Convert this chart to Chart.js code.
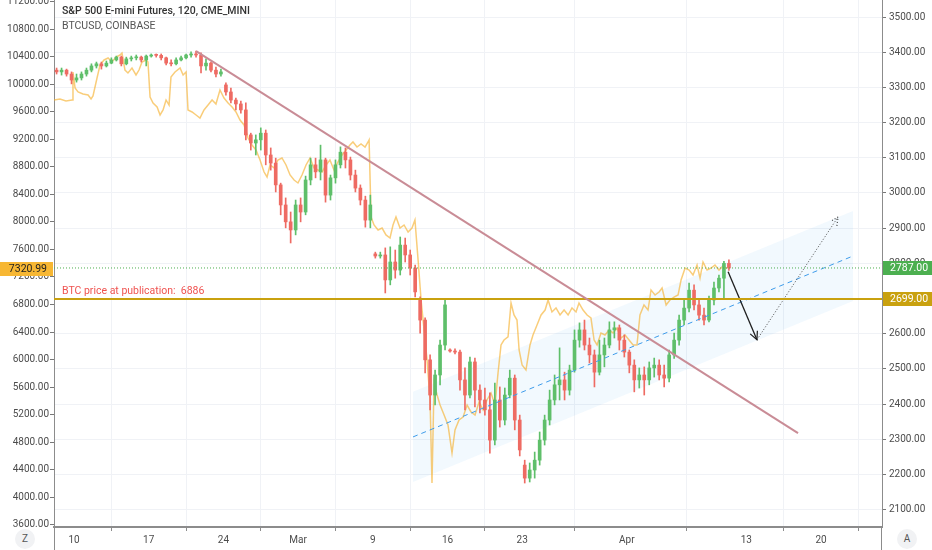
<!DOCTYPE html>
<html>
<head>
<meta charset="utf-8">
<script src="https://cdn.jsdelivr.net/npm/chart.js@4.4.0/dist/chart.umd.min.js"></script>
<style>
html, body { margin: 0; padding: 0; background: #fff; }
#wrap { position: relative; width: 932px; height: 550px; font-family: 'Roboto', sans-serif; }
canvas { display: block; }
.legend { position: absolute; left: 62px; white-space: nowrap; }
#title1 { top: 4px; font-size: 10.5px; font-weight: 500; color: #333; }
#title2 { top: 19px; font-size: 10.5px; color: #555; }
.btn { position: absolute; top: 529px; width: 20px; height: 20px; border-radius: 10px; background: #f1f2f4;
       font-size: 10px; color: #555; text-align: center; line-height: 20px; }
</style>
</head>
<body>
<div id="wrap">
  <canvas id="chart" width="932" height="550"></canvas>
  <div class="legend" id="title1">S&amp;P 500 E-mini Futures, 120, CME_MINI</div>
  <div class="legend" id="title2">BTCUSD, COINBASE</div>
  <div class="btn" style="left:15px">Z</div>
  <div class="btn" style="left:897px">A</div>
</div>
<script>
// S&P 500 e-mini, 120 min candles (3 per trading day, Feb 6 .. Apr 9)
const spOpen = [3349,
  3344, 3349, 3338,  3321, 3327, 3338,  3349, 3361, 3367,  3361, 3369, 3378,  3386, 3367, 3381,
  3384, 3386, 3378,  3389, 3392, 3391,  3384, 3369, 3367,  3378, 3384, 3392,  3395, 3392, 3361,
  3369, 3349, 3338,  3307, 3287, 3264,  3253, 3236, 3165,  3142, 3151, 3170,  3108, 3085, 3023,
  2966, 2918, 2895,  2966, 2946, 3037,  3080, 3060, 3094,  2994, 3043, 3080,  3116, 3094, 3051,
  3014, 2980, 2923,  2827, 2821, 2824,  2753, 2804, 2781,  2852, 2824, 2787,  2696, 2639, 2526,
  2426, 2483, 2568,  2554, 2551, 2548,  2469, 2426, 2520,  2440, 2412, 2384,  2298, 2412, 2355,
  2426, 2474, 2355,  2227, 2190, 2213,  2241, 2298, 2355,  2412, 2455, 2469,  2440, 2497, 2582,
  2611, 2568, 2540,  2491, 2540, 2568,  2611, 2617, 2582,  2548, 2511, 2469,  2483, 2469, 2503,
  2511, 2483, 2474,  2540, 2582, 2639,  2673, 2724, 2682,  2653, 2639, 2696,  2730, 2758, 2800];
const spHigh = [3355,
  3355, 3352, 3344,  3338, 3344, 3355,  3367, 3372, 3372,  3375, 3384, 3389,  3389, 3386, 3389,
  3392, 3389, 3392,  3395, 3395, 3395,  3386, 3378, 3384,  3389, 3395, 3401,  3403, 3398, 3381,
  3372, 3358, 3352,  3313, 3298, 3270,  3261, 3256, 3170,  3165, 3185, 3179,  3128, 3099, 3028,
  2986, 2946, 2980,  2986, 3048, 3099,  3099, 3136, 3099,  3051, 3094, 3131,  3128, 3102, 3065,
  3023, 2991, 2994,  2832, 2832, 2844,  2847, 2838, 2875,  2872, 2838, 2795,  2705, 2645, 2540,
  2497, 2582, 2696,  2557, 2557, 2554,  2503, 2534, 2531,  2455, 2446, 2432,  2460, 2449, 2446,
  2497, 2483, 2369,  2241, 2233, 2264,  2321, 2369, 2440,  2483, 2560, 2491,  2511, 2611, 2631,
  2639, 2588, 2554,  2582, 2588, 2634,  2634, 2625, 2597,  2554, 2526, 2503,  2506, 2520, 2531,
  2526, 2511, 2554,  2602, 2653, 2696,  2744, 2739, 2696,  2673, 2707, 2747,  2767, 2806, 2810];
const spLow = [3338,
  3335, 3332, 3310,  3315, 3321, 3332,  3344, 3355, 3352,  3358, 3367, 3375,  3361, 3364, 3375,
  3378, 3372, 3361,  3386, 3386, 3378,  3364, 3361, 3364,  3375, 3381, 3386,  3386, 3341, 3349,
  3344, 3330, 3332,  3278, 3256, 3236,  3227, 3151, 3122,  3108, 3122, 3080,  3065, 3003, 2938,
  2901, 2858, 2881,  2918, 2938, 3023,  3043, 3037, 2974,  2980, 3028, 3071,  3071, 3037, 3003,
  2966, 2903, 2901,  2815, 2815, 2716,  2739, 2758, 2767,  2804, 2767, 2705,  2602, 2489, 2384,
  2398, 2455, 2554,  2548, 2543, 2440,  2384, 2418, 2392,  2375, 2369, 2261,  2284, 2335, 2341,
  2418, 2327, 2253,  2176, 2179, 2190,  2227, 2284, 2341,  2398, 2412, 2412,  2426, 2491, 2562,
  2554, 2517, 2449,  2483, 2506, 2560,  2588, 2554, 2534,  2489, 2435, 2446,  2426, 2455, 2477,
  2469, 2449, 2463,  2530, 2568, 2625,  2662, 2668, 2639,  2625, 2634, 2682,  2719, 2702, 2780];
const spClose = [3344,
  3349, 3338, 3321,  3327, 3338, 3349,  3361, 3367, 3361,  3369, 3378, 3386,  3367, 3381, 3384,
  3386, 3378, 3389,  3392, 3391, 3384,  3369, 3367, 3378,  3384, 3392, 3395,  3392, 3361, 3369,
  3349, 3338, 3344,  3287, 3264, 3253,  3236, 3165, 3142,  3151, 3170, 3108,  3085, 3023, 2966,
  2918, 2895, 2966,  2946, 3037, 3080,  3060, 3094, 2994,  3043, 3080, 3116,  3094, 3051, 3014,
  2980, 2923, 2966,  2821, 2824, 2753,  2804, 2781, 2852,  2824, 2787, 2719,  2639, 2526, 2426,
  2483, 2568, 2682,  2551, 2548, 2469,  2426, 2520, 2440,  2412, 2384, 2298,  2412, 2355, 2426,
  2474, 2355, 2270,  2190, 2213, 2241,  2298, 2355, 2412,  2455, 2469, 2440,  2497, 2582, 2611,
  2568, 2540, 2491,  2540, 2568, 2611,  2617, 2582, 2548,  2511, 2469, 2483,  2469, 2503, 2511,
  2483, 2474, 2540,  2582, 2639, 2673,  2724, 2682, 2653,  2639, 2696, 2730,  2758, 2800, 2787];

// BTCUSD overlay (x = trading day index, Feb 10 = 0)
const btcTime = [-1.34, -0.94, -0.54, -0.13, -0.07, 0.07, 0.27, 0.60, 0.94, 1.14,
  1.27, 1.54, 1.74, 2.01, 2.28, 2.54, 2.81, 3.08, 3.21, 3.41,
  3.61, 3.88, 4.15, 4.35, 4.55, 4.82, 4.95, 5.09, 5.29, 5.56,
  5.76, 5.96, 6.16, 6.36, 6.49, 6.76, 7.10, 7.30, 7.50, 7.63,
  7.90, 8.17, 8.43, 8.70, 8.97, 9.24, 9.50, 9.77, 10.04, 10.31,
  10.58, 10.84, 11.11, 11.38, 11.65, 11.91, 12.18, 12.45, 12.72, 12.92,
  13.12, 13.39, 13.65, 13.92, 14.19, 14.46, 14.73, 14.99, 15.26, 15.53,
  15.80, 16.06, 16.33, 16.60, 16.87, 17.13, 17.40, 17.67, 17.94, 18.21,
  18.47, 18.67, 18.94, 19.21, 19.48, 19.68, 19.75, 19.88, 20.08, 20.35,
  20.62, 20.88, 21.15, 21.35, 21.55, 21.82, 22.09, 22.36, 22.62, 22.82,
  23.03, 23.23, 23.43, 23.63, 23.83, 23.96, 24.10, 24.30, 24.50, 24.77,
  25.03, 25.30, 25.50, 25.77, 26.04, 26.31, 26.57, 26.84, 27.11, 27.38,
  27.64, 27.91, 28.18, 28.38, 28.58, 28.78, 29.05, 29.25, 29.45, 29.65,
  29.79, 29.99, 30.25, 30.52, 30.72, 30.99, 31.26, 31.53, 31.73, 31.99,
  32.26, 32.53, 32.80, 33.07, 33.33, 33.60, 33.80, 34.07, 34.34, 34.60,
  34.81, 35.01, 35.27, 35.54, 35.81, 36.08, 36.35, 36.61, 36.88, 37.15,
  37.42, 37.68, 37.88, 38.15, 38.42, 38.62, 38.89, 39.16, 39.36, 39.63,
  39.89, 40.16, 40.43, 40.63, 40.90, 41.17, 41.43, 41.70, 41.90, 42.10,
  42.37, 42.64, 42.90, 43.17, 43.44, 43.71];
const btcPrice = [9770, 9784, 9755, 9770, 10176, 9944, 9886, 9857, 9843, 9784,
  9828, 10089, 10278, 10351, 10380, 10322, 10394, 10423, 10452, 10205,
  10162, 10234, 10133, 10205, 10322, 10351, 10322, 9813, 9726, 9668,
  9552, 9625, 9770, 9697, 10104, 10176, 10234, 10133, 10176, 9625,
  9596, 9552, 9508, 9625, 9697, 9770, 9712, 9915, 9799, 9726,
  9668, 9596, 9479, 9407, 9218, 9116, 9044, 8899, 8724, 8652,
  8826, 8783, 8899, 8928, 8826, 8681, 8608, 8565, 8681, 8826,
  8928, 8783, 8753, 8724, 8826, 8899, 8753, 8870, 8971, 9044,
  9116, 9160, 9087, 9131, 9087, 9160, 9189, 8071, 7955, 7882,
  7911, 7810, 7766, 7955, 8071, 7911, 7955, 7853, 7911, 8027,
  7447, 6866, 6430, 5995, 5414, 4209, 5661, 5486, 5341, 5196,
  5051, 4644, 4978, 5123, 5167, 5341, 5240, 5196, 5385, 5269,
  5414, 5516, 5341, 5806, 6213, 6285, 6329, 6822, 6648, 6575,
  6140, 5922, 5849, 6213, 6358, 6503, 6648, 6720, 6866, 6692,
  6750, 6648, 6720, 6648, 6750, 6692, 6822, 6720, 6648, 6604,
  6285, 6213, 6387, 6358, 6430, 6387, 6459, 6314, 6358, 6285,
  6213, 6213, 6648, 6793, 6720, 7011, 6938, 6982, 7040, 6793,
  6866, 6909, 6938, 7156, 7330, 7301, 7229, 7374, 7185, 7418,
  7301, 7330, 7374, 7301, 7360, 7321];

// axes
const xTickPos = [0, 5, 10, 15, 20, 25, 30, 37, 45, 50];
const xTickLabels = ['10', '17', '24', 'Mar', '9', '16', '23', 'Apr', '13', '20'];
const spTicks = [2100, 2200, 2300, 2400, 2500, 2600, 2700, 2800, 2900, 3000, 3100, 3200, 3300, 3400, 3500];
const btcTicks = [3600, 4000, 4400, 4800, 5200, 5600, 6000, 6400, 6800, 7200, 7600, 8000, 8400, 8800,
  9200, 9600, 10000, 10400, 10800, 11200];

// drawings
const trendX = [8.17, 48.46];
const trendY = [3403, 2318];
const channelX = [22.69, 52.14];
const channelTop = [2435, 2949];
const channelMid = [2307, 2821];
const channelBottom = [2179, 2693];
const dropX = [43.78, 45.71];
const dropY = [2776, 2583];
const bounceX = [45.71, 51.14];
const bounceY = [2583, 2932];
const publishedSp = 2699;
const publishedBtc = 6886;
const lastSp = 2787;
const lastBtc = 7320.99;

const xMin = -1.34, xMax = 54.08;
const barsPerDay = 3, firstBar = -7 / 6;
const upColor = '#5fbf6a', downColor = '#ee6b63';

const barX = spClose.map((_, i) => firstBar + i / barsPerDay);
const pts = (xs, ys) => xs.map((x, i) => ({ x: x, y: ys[i] }));
const candleColor = c => spClose[c.dataIndex] >= spOpen[c.dataIndex] ? upColor : downColor;

Chart.defaults.font.family = 'Roboto';

function drawHead(ctx, a, b, color, dash) {
    const ang = Math.atan2(b.y - a.y, b.x - a.x);
    const len = 9, spread = Math.PI / 7;
    ctx.save();
    ctx.strokeStyle = color;
    ctx.lineWidth = 1.2;
    ctx.setLineDash(dash || []);
    ctx.beginPath();
    ctx.moveTo(b.x - len * Math.cos(ang - spread), b.y - len * Math.sin(ang - spread));
    ctx.lineTo(b.x, b.y);
    ctx.lineTo(b.x - len * Math.cos(ang + spread), b.y - len * Math.sin(ang + spread));
    ctx.stroke();
    ctx.restore();
}

function priceTag(ctx, left, width, y, text, bg, fg, alignRight) {
    ctx.fillStyle = bg;
    ctx.fillRect(left, Math.round(y) - 7, width, 14);
    ctx.fillStyle = fg;
    ctx.font = '10.5px Roboto';
    ctx.textBaseline = 'middle';
    ctx.textAlign = alignRight ? 'right' : 'left';
    ctx.fillText(text, alignRight ? left + width - 6 : left + 7, Math.round(y) + 0.5);
}

const overlay = {
    id: 'overlay',
    afterDatasetsDraw(chart) {
        const ctx = chart.ctx;
        chart.data.datasets.forEach((ds, i) => {
            if (!ds.arrow) return;
            const els = chart.getDatasetMeta(i).data;
            drawHead(ctx, els[els.length - 2], els[els.length - 1], ds.borderColor, ds.borderDash);
        });
        const y = chart.scales.yL.getPixelForValue(publishedBtc);
        ctx.save();
        ctx.fillStyle = '#ef5350';
        ctx.font = '10.5px Roboto';
        ctx.textAlign = 'left';
        ctx.textBaseline = 'bottom';
        ctx.fillText('BTC price at publication:  ' + publishedBtc, chart.chartArea.left + 8, y - 2);
        ctx.restore();
    },
    afterDraw(chart) {
        const ctx = chart.ctx, area = chart.chartArea;
        const yR = chart.scales.yR, yL = chart.scales.yL;
        ctx.save();
        priceTag(ctx, area.right + 1, chart.width - area.right - 1, yR.getPixelForValue(lastSp),
            lastSp.toFixed(2), '#4caf50', '#ffffff', false);
        priceTag(ctx, area.right + 1, chart.width - area.right - 1, yR.getPixelForValue(publishedSp),
            publishedSp.toFixed(2), '#c9a10f', '#ffffff', false);
        priceTag(ctx, 0, area.left - 1, yL.getPixelForValue(lastBtc),
            lastBtc.toFixed(2), '#f7b733', '#1e1e1e', true);
        // axis separators in the time row
        ctx.strokeStyle = '#8c8c8c';
        ctx.lineWidth = 1;
        ctx.beginPath();
        ctx.moveTo(area.left + 0.5, area.bottom);
        ctx.lineTo(area.left + 0.5, chart.height);
        ctx.moveTo(area.right - 0.5, area.bottom);
        ctx.lineTo(area.right - 0.5, chart.height);
        ctx.stroke();
        ctx.restore();
    }
};

const tickFont = { family: 'Roboto', size: 10 };
const tickColor = '#4c4c4c';

new Chart(document.getElementById('chart'), {
    type: 'bar',
    data: {
        datasets: [
            {
                type: 'line', data: pts(trendX, trendY), yAxisID: 'yR',
                borderColor: '#c98c96', borderWidth: 2, pointRadius: 0, order: 0
            },
            {
                type: 'line', data: pts([xMin, xMax], [publishedSp, publishedSp]), yAxisID: 'yR',
                borderColor: '#c9a10f', borderWidth: 2, pointRadius: 0, order: 0
            },
            {
                type: 'line', data: pts([xMin, xMax], [lastSp, lastSp]), yAxisID: 'yR',
                borderColor: '#4caf50', borderWidth: 1, borderDash: [1, 2], pointRadius: 0, order: 0
            },
            {
                type: 'line', data: pts(dropX, dropY), yAxisID: 'yR', arrow: true,
                borderColor: '#1f1f1f', borderWidth: 1.3, pointRadius: 0, order: 0
            },
            {
                type: 'line', data: pts(bounceX, bounceY), yAxisID: 'yR', arrow: true,
                borderColor: '#444444', borderWidth: 1, borderDash: [1, 2], pointRadius: 0, order: 0
            },
            {
                type: 'line', data: pts(channelX, channelMid), yAxisID: 'yR',
                borderColor: '#3d9bea', borderWidth: 1, borderDash: [5, 4], pointRadius: 0, order: 0
            },
            {
                data: barX.map((x, i) => ({ x: x, y: [spClose[i], spOpen[i]] })), yAxisID: 'yR',
                backgroundColor: candleColor, barThickness: 3, minBarLength: 1, grouped: false, order: 2
            },
            {
                data: barX.map((x, i) => ({ x: x, y: [spLow[i], spHigh[i]] })), yAxisID: 'yR',
                backgroundColor: candleColor, barThickness: 1, grouped: false, order: 3
            },
            {
                type: 'line', data: pts(btcTime, btcPrice), yAxisID: 'yL',
                borderColor: 'rgba(245,175,40,0.62)', borderWidth: 1.5, pointRadius: 0, tension: 0, order: 4
            },
            {
                type: 'line', data: pts(channelX, channelTop), yAxisID: 'yR',
                borderWidth: 0, pointRadius: 0, fill: '+1', backgroundColor: 'rgba(33,150,243,0.06)', order: 9
            },
            {
                type: 'line', data: pts(channelX, channelBottom), yAxisID: 'yR',
                borderWidth: 0, pointRadius: 0, order: 9
            }
        ]
    },
    options: {
        responsive: false,
        animation: false,
        layout: { padding: 0 },
        plugins: { legend: { display: false }, tooltip: { enabled: false } },
        scales: {
            x: {
                type: 'linear', min: xMin, max: xMax, offset: false,
                grid: { color: '#f0f2f6', tickLength: 4, tickColor: '#8c8c8c' },
                border: { color: '#8c8c8c', width: 2 },
                ticks: {
                    autoSkip: false, maxRotation: 0, padding: 3, color: tickColor, font: tickFont,
                    callback: v => xTickLabels[xTickPos.indexOf(v)]
                },
                afterBuildTicks: s => { s.ticks = xTickPos.map(v => ({ value: v })); },
                afterFit: s => { s.height = 23; s.paddingLeft = 0; s.paddingRight = 0; }
            },
            yL: {
                type: 'linear', position: 'left', min: 3569.7, max: 11221.8,
                grid: { drawOnChartArea: false, tickLength: 4, tickColor: '#777' },
                border: { color: '#8c8c8c' },
                ticks: { padding: 1, color: tickColor, font: tickFont, callback: v => v.toFixed(2) },
                afterBuildTicks: s => { s.ticks = btcTicks.map(v => ({ value: v })); },
                afterFit: s => { s.width = 54; s.paddingTop = 0; s.paddingBottom = 0; }
            },
            yR: {
                type: 'linear', position: 'right', min: 2051.1, max: 3548.3,
                grid: { color: '#f0f2f6', tickLength: 4, tickColor: '#777' },
                border: { color: '#8c8c8c' },
                ticks: { padding: 3, color: tickColor, font: tickFont, callback: v => v.toFixed(2) },
                afterBuildTicks: s => { s.ticks = spTicks.map(v => ({ value: v })); },
                afterFit: s => { s.width = 50; s.paddingTop = 0; s.paddingBottom = 0; }
            }
        }
    },
    plugins: [overlay]
});
</script>
</body>
</html>
